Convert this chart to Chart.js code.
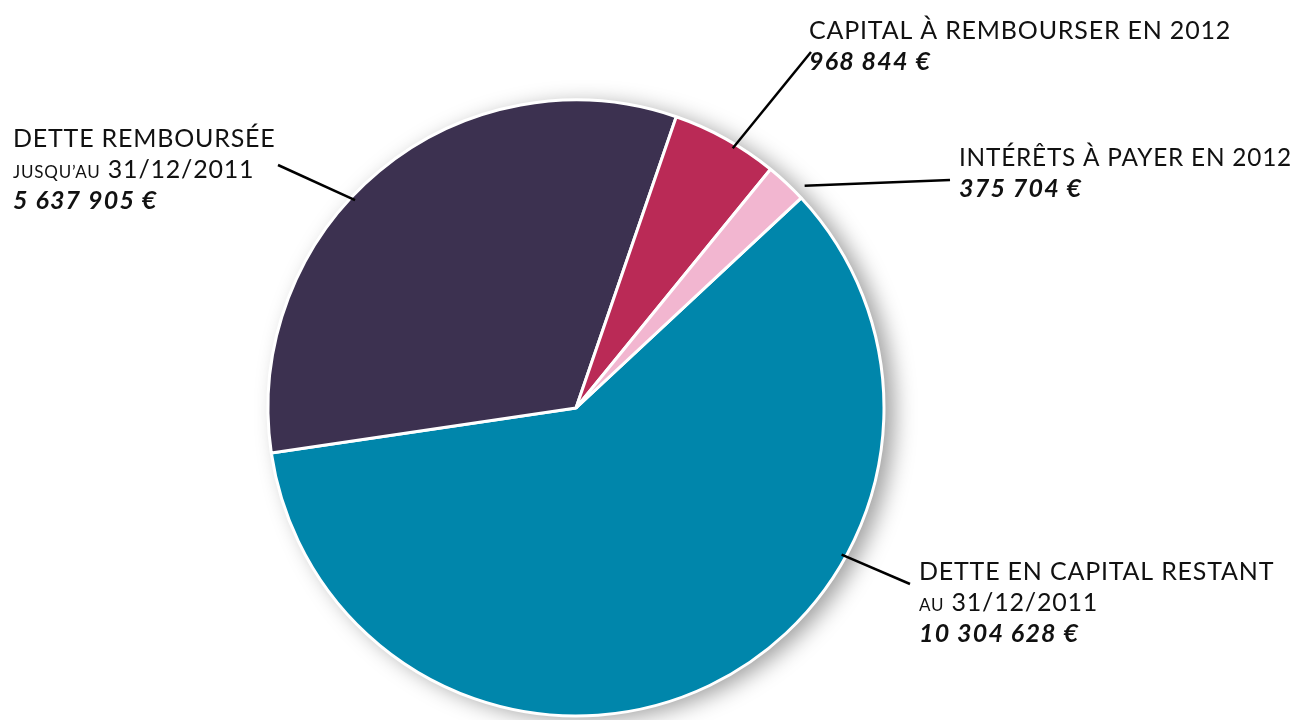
<!DOCTYPE html>
<html lang="fr">
<head>
<meta charset="utf-8">
<script src="https://cdn.jsdelivr.net/npm/chart.js@4.4.1/dist/chart.umd.min.js"></script>
<style>
  html, body { margin: 0; padding: 0; background: #fff; }
  #wrap { width: 1295px; height: 720px; position: relative; }
</style>
</head>
<body>
<div id="wrap"><canvas id="chart-dette"></canvas></div>
<script>
// data
const categories = [
    "Dette en capital restant au 31/12/2011",
    "Dette remboursée jusqu'au 31/12/2011",
    "Capital à rembourser en 2012",
    "Intérêts à payer en 2012",
];
const values = [10304628, 5637905, 968844, 375704];
const titles = ["DETTE EN CAPITAL RESTANT", "DETTE REMBOURSÉE", "CAPITAL À REMBOURSER EN 2012", "INTÉRÊTS À PAYER EN 2012"];
const smallWords = ["AU", "JUSQU’AU", "", ""];
const dates = ["31/12/2011", "31/12/2011", "", ""];
const colors = ["#0086ab", "#3c3150", "#ba2a56", "#f2b6d0"];

// label placement (text position, outer end of leader, where on the slice the leader starts)
const labelLayout = [
    { x: 919, y: 580, endX: 910, endY: 584, frac: 0.335, r: 0.985 },
    { x: 13, y: 147, endX: 278, endY: 165, frac: 0.44, r: 0.985 },
    { x: 809, y: 39, endX: 811, endY: 52, frac: 0.6, r: 0.985 },
    { x: 959, y: 166, endX: 950, endY: 180, frac: 0.85, r: 1.035 },
];

function formatEuro(v) {
    return String(v).replace(/\B(?=(\d{3})+(?!\d))/g, " ") + " €";
}

// grey drop shadow behind the pie
const shadowPlugin = {
    id: "shadow",
    beforeDatasetsDraw(chart) {
        const arc = chart.getDatasetMeta(0).data[0];
        if (!arc) return;
        const ctx = chart.ctx;
        ctx.save();
        ctx.shadowColor = "rgba(0,0,0,0.38)";
        ctx.shadowBlur = 22;
        ctx.shadowOffsetX = 10;
        ctx.shadowOffsetY = 4;
        ctx.fillStyle = "#fff";
        ctx.beginPath();
        ctx.arc(arc.x, arc.y, arc.outerRadius, 0, Math.PI * 2);
        ctx.fill();
        ctx.restore();
    },
};

// labels with leader lines
const labelPlugin = {
    id: "labels",
    afterDatasetsDraw(chart) {
        const ctx = chart.ctx;
        const arcs = chart.getDatasetMeta(0).data;
        ctx.save();
        arcs.forEach((arc, i) => {
            const lay = labelLayout[i];
            const a = arc.startAngle + (arc.endAngle - arc.startAngle) * lay.frac;
            const sx = arc.x + Math.cos(a) * arc.outerRadius * lay.r;
            const sy = arc.y + Math.sin(a) * arc.outerRadius * lay.r;
            ctx.strokeStyle = "#000";
            ctx.lineWidth = 2.5;
            ctx.beginPath();
            ctx.moveTo(sx, sy);
            ctx.lineTo(lay.endX, lay.endY);
            ctx.stroke();

            const maxW = chart.width - lay.x - 3;
            ctx.fillStyle = "#111";
            ctx.textBaseline = "alphabetic";
            ctx.textAlign = "left";
            let y = lay.y;
            ctx.letterSpacing = "0.8px";
            ctx.font = "400 25px Lato";
            ctx.fillText(titles[i], lay.x, y, maxW);
            if (dates[i]) {
                y += 31;
                ctx.font = "400 17px Lato";
                ctx.fillText(smallWords[i], lay.x, y);
                const w = ctx.measureText(smallWords[i] + " ").width;
                ctx.font = "400 25px Lato";
                ctx.fillText(dates[i], lay.x + w + 2, y);
            }
            y += 31;
            ctx.letterSpacing = "1.2px";
            ctx.font = "italic 700 25px Lato";
            ctx.fillText(formatEuro(values[i]), lay.x, y);
        });
        ctx.restore();
    },
};

const chartData = {
    labels: categories,
    datasets: [
        {
            data: values,
            backgroundColor: colors,
            borderColor: "#fff",
            borderWidth: 3,
        },
    ],
};

const config = {
    type: "pie",
    data: chartData,
    options: {
        responsive: true,
        maintainAspectRatio: false,
        animation: false,
        rotation: 47,
        radius: 308,
        layout: {
            padding: { left: 276, right: 419, top: 108, bottom: 12 },
        },
        plugins: {
            legend: { display: false },
            tooltip: { enabled: false },
        },
    },
    plugins: [shadowPlugin, labelPlugin],
};

const myChart = new Chart(document.getElementById("chart-dette"), config);
</script>
</body>
</html>
